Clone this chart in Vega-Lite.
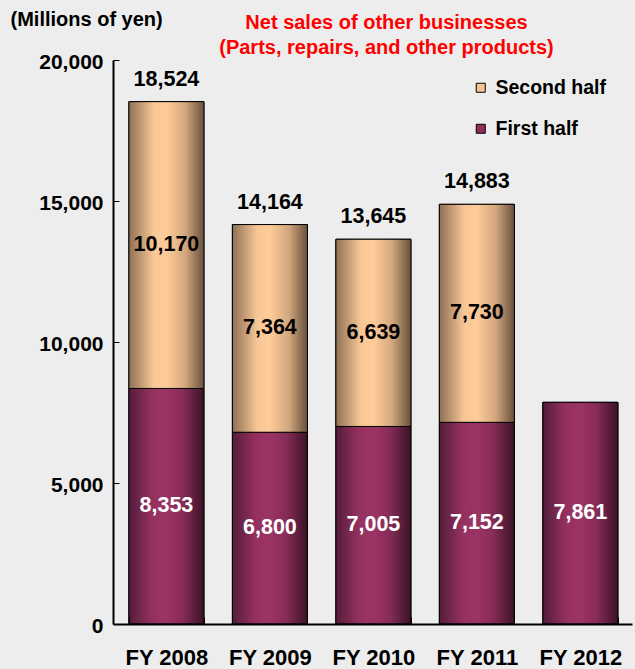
{
  "$schema": "https://vega.github.io/schema/vega-lite/v6.json",
  "width": 519,
  "height": 564,
  "autosize": {"type": "none"},
  "padding": {"left": 113, "top": 60, "right": 3, "bottom": 45},
  "background": "#ededed",
  "config": {"view": {"stroke": null}, "font": "Liberation Sans"},
  "title": {
    "text": ["Net sales of other businesses", "(Parts, repairs, and other products)"],
    "color": "#ff0000",
    "fontSize": 20,
    "fontWeight": "bold",
    "font": "Liberation Sans",
    "lineHeight": 25,
    "anchor": "middle",
    "dx": 14,
    "offset": -49
  },
  "datasets": {
    "halves": [
      {"year": "FY 2008", "half": "First half", "rank": 1, "sales": 8353},
      {"year": "FY 2008", "half": "Second half", "rank": 2, "sales": 10170},
      {"year": "FY 2009", "half": "First half", "rank": 1, "sales": 6800},
      {"year": "FY 2009", "half": "Second half", "rank": 2, "sales": 7364},
      {"year": "FY 2010", "half": "First half", "rank": 1, "sales": 7005},
      {"year": "FY 2010", "half": "Second half", "rank": 2, "sales": 6639},
      {"year": "FY 2011", "half": "First half", "rank": 1, "sales": 7152},
      {"year": "FY 2011", "half": "Second half", "rank": 2, "sales": 7730},
      {"year": "FY 2012", "half": "First half", "rank": 1, "sales": 7861}
    ],
    "totals": [
      {"year": "FY 2008", "total": 18524},
      {"year": "FY 2009", "total": 14164},
      {"year": "FY 2010", "total": 13645},
      {"year": "FY 2011", "total": 14883}
    ]
  },
  "encoding": {
    "x": {
      "field": "year",
      "type": "nominal",
      "scale": {"paddingInner": 0.275, "paddingOuter": 0.145, "align": 0.53},
      "axis": {
        "title": null,
        "labelAngle": 0,
        "labelFontSize": 22,
        "labelFontWeight": "bold",
        "labelColor": "black",
        "labelPadding": 30,
        "domainColor": "black",
        "domainWidth": 2,
        "tickBand": "extent",
        "tickColor": "black",
        "tickSize": -7,
        "tickWidth": 1,
        "zindex": 1
      }
    }
  },
  "layer": [
    {
      "data": {"name": "halves"},
      "mark": {"type": "bar", "stroke": "black", "strokeWidth": 1},
      "encoding": {
        "y": {
          "field": "sales",
          "type": "quantitative",
          "stack": "zero",
          "scale": {"domain": [0, 20000]},
          "axis": {
            "values": [0, 5000, 10000, 15000, 20000],
            "format": ",d",
            "grid": false,
            "ticks": true,
            "tickSize": -6,
            "tickColor": "black",
            "tickWidth": 1,
            "labelFontSize": 21,
            "labelFontWeight": "bold",
            "labelColor": "black",
            "labelPadding": 16,
            "labelOffset": 2,
            "domainColor": "black",
            "domainWidth": 2,
            "zindex": 1,
            "title": "(Millions of yen)",
            "titleAngle": 0,
            "titleAlign": "left",
            "titleBaseline": "middle",
            "titleX": -103,
            "titleY": -41,
            "titleFontSize": 20,
            "titleFontWeight": "bold",
            "titleColor": "black"
          }
        },
        "color": {
          "field": "half",
          "type": "nominal",
          "scale": {"domain": ["Second half", "First half"], "range": ["#f7c592", "#8e2c5c"]},
          "legend": {
            "title": null,
            "orient": "none",
            "legendX": 358,
            "legendY": 18,
            "direction": "vertical",
            "padding": 0,
            "symbolType": "square",
            "symbolSize": 81,
            "symbolStrokeColor": "black",
            "symbolStrokeWidth": 1,
            "symbolOpacity": 1,
            "labelFontSize": 19.5,
            "labelFontWeight": "bold",
            "labelColor": "black",
            "labelOffset": 5,
            "rowPadding": 20
          }
        },
        "order": {"field": "rank", "type": "quantitative"}
      }
    },
    {
      "data": {"name": "halves"},
      "mark": {"type": "bar", "stroke": "black", "strokeWidth": 1},
      "encoding": {
        "y": {"field": "sales", "type": "quantitative", "stack": "zero"},
        "detail": {"field": "half", "type": "nominal"},
        "order": {"field": "rank", "type": "quantitative"},
        "fill": {
          "condition": {
            "test": "datum.half === 'First half'",
            "value": {
              "gradient": "linear", "x1": 0, "x2": 1, "y1": 0, "y2": 0,
              "stops": [
                {"offset": 0, "color": "#531c3a"},
                {"offset": 0.3, "color": "#94305e"},
                {"offset": 0.5, "color": "#9b3466"},
                {"offset": 0.72, "color": "#862b58"},
                {"offset": 1, "color": "#3a1326"}
              ]
            }
          },
          "value": {
            "gradient": "linear", "x1": 0, "x2": 1, "y1": 0, "y2": 0,
            "stops": [
              {"offset": 0, "color": "#8e7055"},
              {"offset": 0.33, "color": "#f8c795"},
              {"offset": 0.5, "color": "#ffcc99"},
              {"offset": 0.75, "color": "#d2a77e"},
              {"offset": 1, "color": "#69503c"}
            ]
          }
        }
      }
    },
    {
      "data": {"name": "halves"},
      "mark": {"type": "text", "fontSize": 21.5, "fontWeight": "bold", "baseline": "middle"},
      "encoding": {
        "y": {"field": "sales", "type": "quantitative", "stack": "zero", "bandPosition": 0.5},
        "detail": {"field": "half", "type": "nominal"},
        "order": {"field": "rank", "type": "quantitative"},
        "text": {"field": "sales", "type": "quantitative", "format": ","},
        "color": {
          "condition": {"test": "datum.half === 'First half'", "value": "white"},
          "value": "black"
        }
      }
    },
    {
      "data": {"name": "totals"},
      "mark": {"type": "text", "fontSize": 21.5, "fontWeight": "bold", "baseline": "middle", "dy": -22, "color": "black"},
      "encoding": {
        "y": {"field": "total", "type": "quantitative"},
        "text": {"field": "total", "type": "quantitative", "format": ","}
      }
    }
  ]
}
